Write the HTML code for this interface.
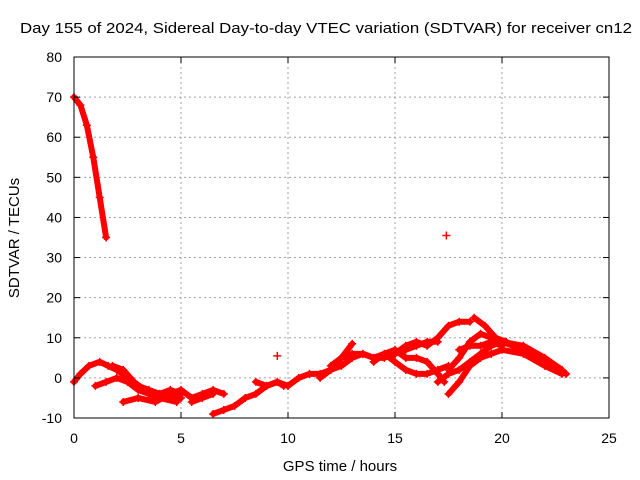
<!DOCTYPE html>
<html><head><meta charset="utf-8"><style>
body{margin:0;background:#fff;}
svg{display:block;font-family:"Liberation Sans",sans-serif;}
</style></head><body>
<svg id="chart" width="640" height="480">
<rect x="0" y="0" width="640" height="480" fill="#fff"/>
<g id="grid"></g>
<g id="series"></g>
<rect x="74" y="57" width="535" height="361" fill="none" stroke="#000" stroke-width="1"/>
<g id="ticks"></g>
<text x="20" y="33" font-size="15" textLength="612" lengthAdjust="spacingAndGlyphs">Day 155 of 2024, Sidereal Day-to-day VTEC variation (SDTVAR) for receiver cn12</text>
<text x="340" y="471" text-anchor="middle" font-size="15">GPS time / hours</text>
<text x="19" y="238" text-anchor="middle" font-size="15" transform="rotate(-90 19 238)">SDTVAR / TECUs</text>
</svg>
<script>
const xTicks=[0,5,10,15,20,25];
const yTicks=[-10,0,10,20,30,40,50,60,70,80];
const track1H=[0,0.3,0.6,0.9,1.2,1.5];
const track1V=[70,68,63,55,45,35];
const track2H=[0,0.3,0.7,1.2,1.6,2,2.5,3,3.5,4,4.5,5];
const track2V=[-1,1,3,4,3,2,0,-2,-3,-4,-5,-5];
const track3H=[1,1.5,2,2.5,3,3.5,4,4.8];
const track3V=[-2,-1,0,-1,-3,-4,-5,-6];
const track4H=[1.8,2.3,2.8,3.3,4,4.5,5];
const track4V=[3,2,-1,-3,-4,-3,-4];
const track5H=[2.3,3,3.8,4.5,5,5.5,6,6.5,7];
const track5V=[-6,-5,-6,-4,-3,-5,-4,-3,-4];
const track6H=[5.5,6,6.5];
const track6V=[-6,-5,-4];
const track7H=[6.5,7,7.5,8,8.5,9,9.5,9.8];
const track7V=[-9,-8,-7,-5,-4,-2,-1,-2];
const track8H=[8.5,9,9.5,10];
const track8V=[-1,-2,-1,-2];
const track9H=[10,10.5,11,11.5,12,12.5,13,13.5,14,14.5,15,15.5,16,16.5,17];
const track9V=[-2,0,1,1,2,3,5,6,5,5,6,7,8,9,9];
const track10H=[11.5,12,12.5,13];
const track10V=[0,2,5,8.5];
const track11H=[12,12.5,13,13.5,14,14.5,15,15.5,16,16.5,17,17.5];
const track11V=[3,5,6,6,5,6,4,2,1,1,2,3];
const track12H=[14,14.5,15,15.5,16,16.5,17,17.3];
const track12V=[4,6,7,5,5,4,1,-1];
const track13H=[15,15.5,16,16.5,17,17.5,18,18.5];
const track13V=[6,8,9,8,10,13,14,14];
const track14H=[17,17.5,18,18.5,19,19.5,20,20.5,21,21.5,22,22.5,23];
const track14V=[-1,1,2,4,6,8,9,8,7,6,4,2,1];
const track15H=[17.5,18,18.5,19,19.5,20,21,22,22.8];
const track15V=[-4,-1,3,5,6,7,6,3,1];
const track16H=[17.5,18,18.5,19,19.5,20,21,22,22.8];
const track16V=[2,5,9,11,10,9,8,5,2];
const track17H=[18.7,19.2,19.7,20.2];
const track17V=[15,13,10,9];
const track18H=[18,18.5,19,19.5,20];
const track18V=[7,8,8,9,8];
const singleH=[9.5,17.4];
const singleV=[5.5,35.5];
const tracksH=[track1H,track2H,track3H,track4H,track5H,track6H,track7H,track8H,track9H,track10H,track11H,track12H,track13H,track14H,track15H,track16H,track17H,track18H];
const tracksV=[track1V,track2V,track3V,track4V,track5V,track6V,track7V,track8V,track9V,track10V,track11V,track12V,track13V,track14V,track15V,track16V,track17V,track18V];

const X0=74,X1=609,Y0=418,Y1=57;
function sx(h){return X0+(h-0)/(25-0)*(X1-X0);}
function sy(v){return Y0-(v+10)/90*(Y0-Y1);}
const NS="http://www.w3.org/2000/svg";
function mk(t,a,p){const e=document.createElementNS(NS,t);for(const k in a)e.setAttribute(k,a[k]);p.appendChild(e);return e;}
const grid=document.getElementById('grid'),ticks=document.getElementById('ticks'),ser=document.getElementById('series');
xTicks.forEach(t=>{
  const x=sx(t);
  if(t>0&&t<25){const g=mk('line',{x1:x,x2:x,y1:Y1,y2:Y0,stroke:'#a0a0a0','stroke-dasharray':'2,3'},grid);
    
    }
  mk('line',{x1:x,x2:x,y1:Y0,y2:Y0-6,stroke:'#000'},ticks);
  mk('line',{x1:x,x2:x,y1:Y1,y2:Y1+6,stroke:'#000'},ticks);
  const l=mk('text',{x:x,y:443,'text-anchor':'middle','font-size':14},ticks);
  l.textContent=t;
  
  
});
yTicks.forEach(t=>{
  const y=sy(t);
  if(t>-10&&t<80){const g=mk('line',{x1:X0,x2:X1,y1:y,y2:y,stroke:'#a0a0a0','stroke-dasharray':'2,3'},grid);
    
    }
  mk('line',{x1:X0,x2:X0+6,y1:y,y2:y,stroke:'#000'},ticks);
  mk('line',{x1:X1,x2:X1-6,y1:y,y2:y,stroke:'#000'},ticks);
  const l=mk('text',{x:62,y:y+5,'text-anchor':'end','font-size':14},ticks);
  l.textContent=t;
  
  
});
function cross(x,y){
  const c=mk('path',{d:`M${x-4},${y}h8M${x},${y-4}v8`,stroke:'#f00','stroke-width':1.5},ser);
  
  
}
tracksH.forEach((hs,i)=>{
  const vs=tracksV[i];
  const pts=hs.map((h,j)=>sx(h)+','+sy(vs[j])).join(' ');
  const p=mk('polyline',{points:pts,fill:'none',stroke:'#f00','stroke-width':6,'stroke-linejoin':'round','stroke-linecap':'round'},ser);
  
  
  hs.forEach((h,j)=>cross(sx(h),sy(vs[j])));
});
singleH.forEach((h,i)=>cross(sx(h),sy(singleV[i])));
</script>
</body></html>
